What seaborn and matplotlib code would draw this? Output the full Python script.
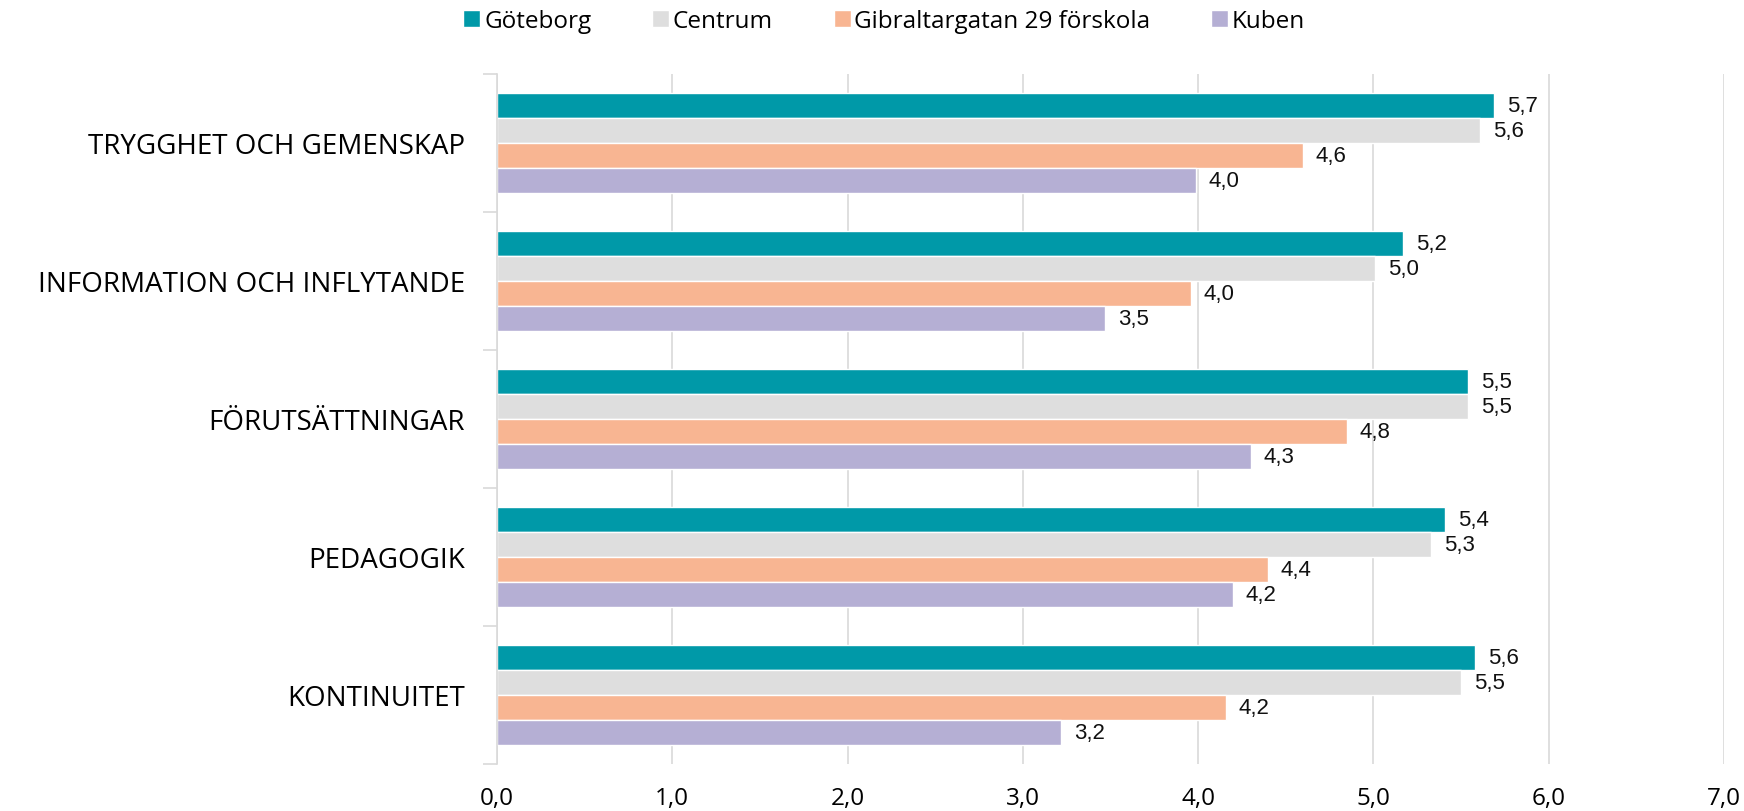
import numpy as np
import pandas as pd
import matplotlib
matplotlib.use('Agg')
import matplotlib.pyplot as plt
from matplotlib.ticker import FixedLocator
import seaborn as sns

# data
categories = ['TRYGGHET OCH GEMENSKAP', 'INFORMATION OCH INFLYTANDE',
              'FÖRUTSÄTTNINGAR', 'PEDAGOGIK', 'KONTINUITET']
series = ['Göteborg', 'Centrum', 'Gibraltargatan 29 förskola', 'Kuben']
goteborg = [5.69, 5.17, 5.54, 5.41, 5.58]
centrum = [5.61, 5.01, 5.54, 5.33, 5.50]
gibraltar = [4.60, 3.96, 4.85, 4.40, 4.16]
kuben = [3.99, 3.47, 4.30, 4.20, 3.22]
xticks = [0, 1, 2, 3, 4, 5, 6, 7]
colors = ['#0099A8', '#DEDEDE', '#F8B592', '#B5AFD4']

sns.set_theme(style='white')
plt.rcParams['font.family'] = ['Open Sans', 'DejaVu Sans']

rows = []
for name, vals in zip(series, [goteborg, centrum, gibraltar, kuben]):
    for cat, v in zip(categories, vals):
        rows.append({'kategori': cat, 'enhet': name, 'varde': v})
df = pd.DataFrame(rows)

fig = plt.figure(figsize=(17.44, 8.12), dpi=100)
ax = fig.add_axes([497 / 1744, 1 - 765 / 812, 1227 / 1744, 690 / 812])

sns.barplot(data=df, y='kategori', x='varde', hue='enhet', order=categories,
            hue_order=series, palette=colors, orient='h', width=0.725,
            saturation=1, ax=ax, legend=True)

def komma(v):
    return f'{v:.1f}'.replace('.', ',')

for cont in ax.containers:
    ax.bar_label(cont, labels=[komma(b.get_width()) for b in cont], padding=9,
                 fontsize=16, family='Liberation Sans', color='#111111')

ax.set_xlim(0, 7)
ax.set_ylim(4.5, -0.5)
ax.set_xticks(xticks)
ax.set_xticklabels([komma(t) for t in xticks], fontsize=17.5, color='#000000')
ax.tick_params(axis='x', length=0, pad=16)
ax.tick_params(axis='y', which='major', length=0, pad=23, labelsize=20,
               labelcolor='#000000')
ax.yaxis.set_minor_locator(FixedLocator(np.arange(-0.5, 5, 1)))
ax.tick_params(axis='y', which='minor', left=True, length=10, width=1.2,
               color='#D9D9D9')
ax.set_xlabel('')
ax.set_ylabel('')
ax.grid(axis='x', color='#D9D9D9', linewidth=1.2)
ax.set_axisbelow(True)
for side in ['top', 'right', 'bottom']:
    ax.spines[side].set_visible(False)
ax.spines['left'].set_color('#D9D9D9')
ax.spines['left'].set_linewidth(1.2)

handles, labels = ax.get_legend_handles_labels()
ax.legend_.remove()
fig.legend(handles, labels, loc='center', bbox_to_anchor=(0.507, 1 - 22 / 812),
           ncol=4, frameon=False, fontsize=17.5, handlelength=0.7,
           handleheight=0.7, handletextpad=0.15, columnspacing=2.5,
           labelcolor='#000000')

fig.savefig('out.png', dpi=100)
